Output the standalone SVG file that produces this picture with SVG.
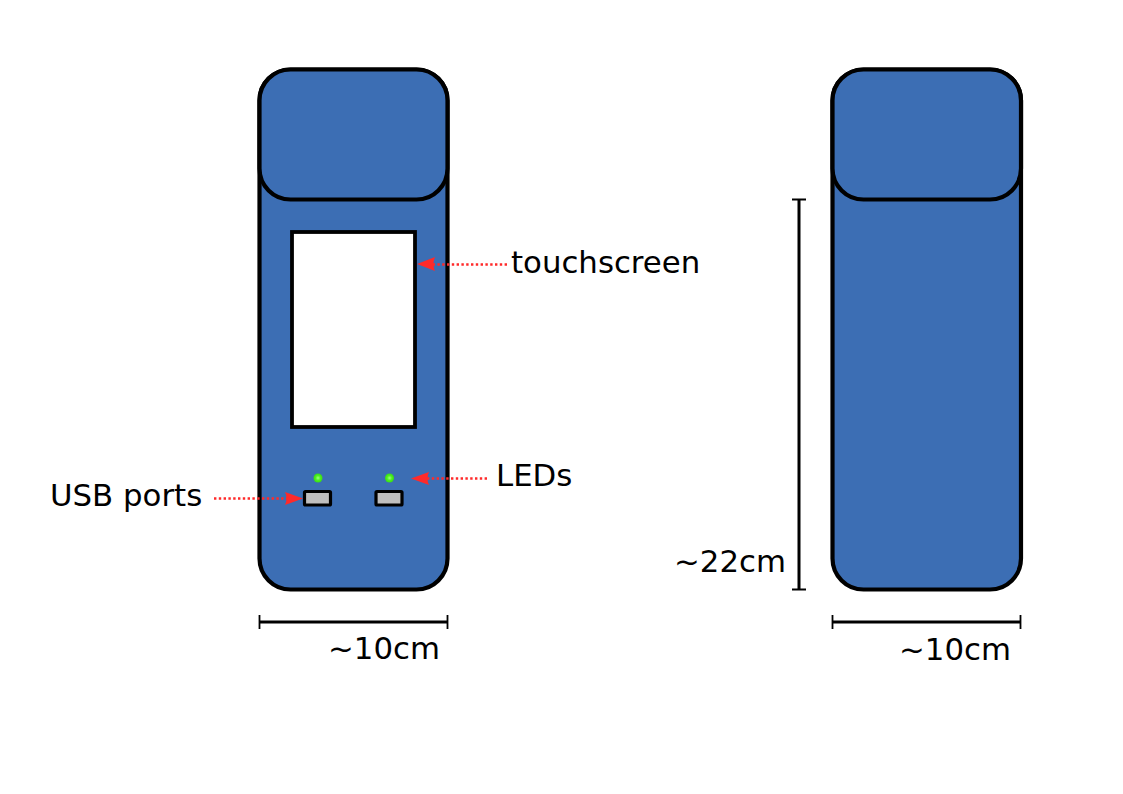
<svg xmlns="http://www.w3.org/2000/svg" width="1123" height="794" viewBox="0 0 1123 794">
<style>
.shell{fill:#3c6eb4;stroke:#000;stroke-width:4.2}
.screen{fill:#fff;stroke:#000;stroke-width:3.8}
.port{fill:#bfbfbf;stroke:#000;stroke-width:3.2}
.dim{fill:none;stroke:#000;stroke-width:3}
.tick{fill:none;stroke:#000;stroke-width:1.8}
.lead{fill:none;stroke:#ff2a2a;stroke-width:2.6;stroke-dasharray:2.4 2.4}
.head{fill:#ff2a2a}
text{font-family:"DejaVu Sans",sans-serif;font-size:30.8px;fill:#000}
</style>
<defs>
<radialGradient id="led"><stop offset="0" stop-color="#a0ff80"/><stop offset="0.55" stop-color="#4cf020"/><stop offset="1" stop-color="#38dc14"/></radialGradient>
</defs>
<rect width="1123" height="794" fill="#fff"/>
<g id="device-front">
<rect class="shell" x="259.500" y="69.500" width="188" height="520" rx="31" ry="31"/>
<rect class="shell" x="259.500" y="69.500" width="188" height="130" rx="31" ry="31"/>
<rect class="screen" x="292" y="232" width="123" height="195"/>
<circle cx="318" cy="478" r="4.500" fill="url(#led)"/>
<circle cx="389.500" cy="478" r="4.500" fill="url(#led)"/>
<rect class="port" x="304.500" y="491.500" width="26" height="13.500" rx="1"/>
<rect class="port" x="376" y="491.500" width="26" height="13.500" rx="1"/>
</g>
<g id="device-back">
<rect class="shell" x="832.500" y="69.500" width="188.500" height="520" rx="31" ry="31"/>
<rect class="shell" x="832.500" y="69.500" width="188.500" height="130" rx="31" ry="31"/>
</g>
<g id="connectors">
<path class="lead" d="M507 264.500H432"/>
<path class="head" d="M417 264L435 257Q432 264 435 271Z"/>
<path class="lead" d="M487 478.500H426"/>
<path class="head" d="M411 478.500L429 472Q426 478.500 429 485Z"/>
<path class="lead" d="M214 498.500H290"/>
<path class="head" d="M303 498.500L285 492Q288 498.500 285 505Z"/>
<path class="dim" d="M259.500 622H447.500"/>
<path class="tick" d="M259.500 615V629M447.500 615V629"/>
<path class="dim" d="M832.500 622H1020.500"/>
<path class="tick" d="M832.500 615V629M1020.500 615V629"/>
<path class="dim" d="M799 199.500V589.500"/>
<path class="tick" d="M792 199.500H806M792 589.500H806"/>
</g>
<g id="labels">
<text x="511" y="273">touchscreen</text>
<text x="496" y="486">LEDs</text>
<text x="50" y="506">USB ports</text>
<text x="328" y="659">~10cm</text>
<text x="899" y="660">~10cm</text>
<text x="674" y="572">~22cm</text>
</g>
</svg>
